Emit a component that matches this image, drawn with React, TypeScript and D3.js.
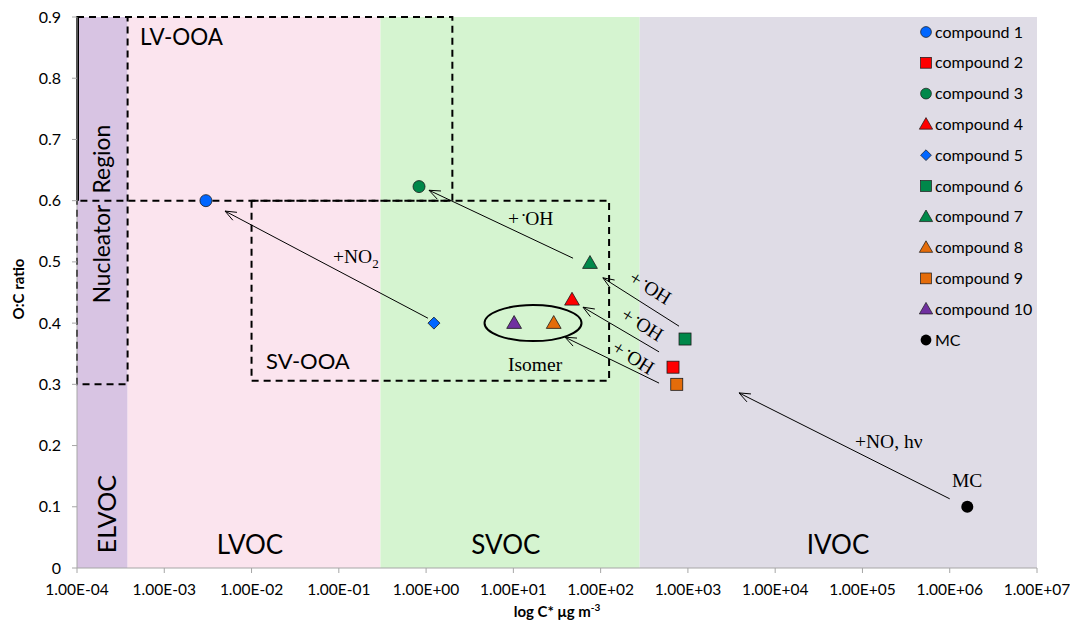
import React from "react";
import * as d3 from "d3";

// ---------- data ----------
const xTicks = [1e-4, 1e-3, 1e-2, 1e-1, 1e0, 1e1, 1e2, 1e3, 1e4, 1e5, 1e6, 1e7];
const yTicks = [0, 0.1, 0.2, 0.3, 0.4, 0.5, 0.6, 0.7, 0.8, 0.9];

const volatilityBands = [
  { name: "ELVOC", x0: 1e-4, x1: 3.8e-4, fill: "#d8c4e3" },
  { name: "LVOC", x0: 3.8e-4, x1: 0.3, fill: "#fbe4ee" },
  { name: "SVOC", x0: 0.3, x1: 280, fill: "#d5f4d0" },
  { name: "IVOC", x0: 280, x1: 1e7, fill: "#dfdce6" },
];

const bandLabels = [
  { text: "LVOC", x: 0.0096, y: 0.023 },
  { text: "SVOC", x: 8.2, y: 0.023 },
  { text: "IVOC", x: 52500, y: 0.023 },
];

// dashed region boxes
const boxes = [
  { name: "LV-OOA", x0: 1e-4, x1: 2, y0: 0.6, y1: 0.9 },
  { name: "Nucleator", x0: 1e-4, x1: 3.8e-4, y0: 0.3, y1: 0.9 },
  { name: "SV-OOA", x0: 0.01, x1: 125, y0: 0.306, y1: 0.6 },
];

const compounds = [
  { name: "compound 1", x: 0.003, y: 0.6, shape: "circle", color: "#0066ff" },
  { name: "compound 2", x: 675, y: 0.328, shape: "square", color: "#ff0000" },
  { name: "compound 3", x: 0.83, y: 0.623, shape: "circle", color: "#00884a" },
  { name: "compound 4", x: 47, y: 0.438, shape: "triangle", color: "#ff0000" },
  { name: "compound 5", x: 1.23, y: 0.4, shape: "diamond", color: "#0066ff" },
  { name: "compound 6", x: 927, y: 0.374, shape: "square", color: "#00884a" },
  { name: "compound 7", x: 75.5, y: 0.498, shape: "triangle", color: "#00884a" },
  { name: "compound 8", x: 29, y: 0.4, shape: "triangle", color: "#e46c0a" },
  { name: "compound 9", x: 745, y: 0.3, shape: "square", color: "#e46c0a" },
  { name: "compound 10", x: 10.2, y: 0.4, shape: "triangle", color: "#7030a0" },
  { name: "MC", x: 1.59e6, y: 0.1, shape: "dot", color: "#000000" },
];

// reaction arrows: from -> to (data coordinates)
const arrows = [
  { x0: 1.05, y0: 0.408, x1: 0.00497, y1: 0.583 },
  { x0: 48.3, y0: 0.506, x1: 1.08, y1: 0.617 },
  { x0: 791, y0: 0.395, x1: 106, y1: 0.474 },
  { x0: 467, y0: 0.353, x1: 62.8, y1: 0.426 },
  { x0: 467, y0: 0.302, x1: 39.1, y1: 0.377 },
  { x0: 1.0e6, y0: 0.113, x1: 3850, y1: 0.286 },
];

const ohLabelsRotated = [
  { x: 368, y: 0.457 },
  { x: 298, y: 0.397 },
  { x: 235, y: 0.343 },
];

const fmtTick = (v: number) => {
  const e = Math.round(Math.log10(v));
  const s = e < 0 ? "-" : "+";
  return "1.00E" + s + String(Math.abs(e)).padStart(2, "0");
};

// ---------- layout ----------
const W = 1070;
const H = 622;
const L = 77, R = 1037, T = 17, B = 568;

const x = d3.scaleLog().domain([1e-4, 1e7]).range([L, R]);
const y = d3.scaleLinear().domain([0, 0.9]).range([B, T]);

const sans = "Lato, 'Open Sans', sans-serif";
const serif = "'Liberation Serif', 'DejaVu Serif', serif";
const serifSize = 19.5;

function Marker({ shape, color, cx, cy }: { shape: string; color: string; cx: number; cy: number }) {
  const stroke = "#1a1a1a";
  if (shape === "circle")
    return <circle cx={cx} cy={cy} r={6} fill={color} stroke={stroke} strokeWidth={0.8} />;
  if (shape === "dot") return <circle cx={cx} cy={cy} r={6} fill={color} />;
  if (shape === "square")
    return <rect x={cx - 6} y={cy - 6} width={12} height={12} fill={color} stroke={stroke} strokeWidth={0.8} />;
  if (shape === "diamond") {
    const p = d3.path();
    p.moveTo(cx, cy - 6);
    p.lineTo(cx + 6, cy);
    p.lineTo(cx, cy + 6);
    p.lineTo(cx - 6, cy);
    p.closePath();
    return <path d={p.toString()} fill={color} stroke={stroke} strokeWidth={0.8} />;
  }
  const sym = d3.symbol(d3.symbolTriangle, 95)();
  return <path d={sym as string} transform={`translate(${cx},${cy + 1})`} fill={color} stroke={stroke} strokeWidth={0.8} />;
}

function Arrow({ a }: { a: typeof arrows[number] }) {
  const X0 = x(a.x0), Y0 = y(a.y0), X1 = x(a.x1), Y1 = y(a.y1);
  const ang = Math.atan2(Y0 - Y1, X0 - X1);
  const hl = 12, spread = 0.38;
  const p1 = [X1 + hl * Math.cos(ang + spread), Y1 + hl * Math.sin(ang + spread)];
  const p2 = [X1 + hl * Math.cos(ang - spread), Y1 + hl * Math.sin(ang - spread)];
  return (
    <g stroke="#000" strokeWidth={1} fill="none">
      <line x1={X0} y1={Y0} x2={X1} y2={Y1} />
      <polyline points={`${p1[0]},${p1[1]} ${X1},${Y1} ${p2[0]},${p2[1]}`} />
    </g>
  );
}

function OH() {
  return (
    <>
      <tspan>+</tspan>
      <tspan dx={3} dy={-7} fontSize={9}>•</tspan>
      <tspan dy={7}>OH</tspan>
    </>
  );
}

export default function App() {
  const legendX = 926;
  const legendY0 = 32;
  const legendStep = 30.8;
  return (
    <svg width={W} height={H} style={{ position: "absolute", left: 0, top: 0, background: "#fff" }}>
      {/* bands */}
      {volatilityBands.map((b) => (
        <rect key={b.name} x={x(b.x0)} y={T} width={x(b.x1) - x(b.x0)} height={B - T} fill={b.fill} />
      ))}

      {/* dashed boxes */}
      {boxes.map((b) => (
        <rect
          key={b.name}
          x={x(b.x0)}
          y={y(b.y1)}
          width={x(b.x1) - x(b.x0)}
          height={y(b.y0) - y(b.y1)}
          fill="none"
          stroke="#000"
          strokeWidth={2}
          strokeDasharray="7,5"
        />
      ))}
      <line x1={x(1e-4) + 1} x2={x(1e-4) + 1} y1={y(0.9)} y2={y(0.6)} stroke="#000" strokeWidth={2} />

      {/* axes */}
      <line x1={L} x2={L} y1={T} y2={B} stroke="#a6a6a6" strokeWidth={1} />
      <line x1={L} x2={R} y1={B} y2={B} stroke="#a6a6a6" strokeWidth={1} />
      {yTicks.map((t) => (
        <g key={t}>
          <line x1={L - 5} x2={L} y1={y(t)} y2={y(t)} stroke="#a6a6a6" />
          <text x={L - 16} y={y(t) + 5.5} textAnchor="end" fontFamily={sans} fontSize={16} fill="#000">
            {t === 0 ? "0" : t.toFixed(1)}
          </text>
        </g>
      ))}
      {xTicks.map((t) => (
        <g key={t}>
          <line x1={x(t)} x2={x(t)} y1={B} y2={B + 5} stroke="#a6a6a6" />
          <text x={x(t)} y={B + 27} textAnchor="middle" fontFamily={sans} fontSize={15.5} fill="#000">
            {fmtTick(t)}
          </text>
        </g>
      ))}
      <text x={557} y={617} textAnchor="middle" fontFamily={sans} fontSize={15} fontWeight="bold">
        log C* μg m<tspan dy={-6} fontSize={10}>-3</tspan>
      </text>
      <text
        transform={`translate(24,289) rotate(-90)`}
        textAnchor="middle"
        fontFamily={sans}
        fontSize={15}
        fontWeight="bold"
      >
        O:C ratio
      </text>

      {/* region labels */}
      {bandLabels.map((b) => (
        <text key={b.text} x={x(b.x)} y={y(b.y)} textAnchor="middle" fontFamily={sans} fontSize={26} fill="#000">
          {b.text}
        </text>
      ))}
      <text
        transform={`translate(${x(2.15e-4) + 10},${y(0.088)}) rotate(-90)`}
        textAnchor="middle"
        fontFamily={sans}
        fontSize={25}
      >
        ELVOC
      </text>
      <text
        transform={`translate(${x(1.93e-4) + 8},${y(0.578)}) rotate(-90)`}
        textAnchor="middle"
        fontFamily={sans}
        fontSize={22.8}
        style={{ whiteSpace: "pre" }}
      >
        {"Nucleator  Region"}
      </text>
      <text x={x(5.27e-4)} y={y(0.854)} fontFamily={sans} fontSize={22.4}>
        LV-OOA
      </text>
      <text x={x(0.01466)} y={y(0.325)} fontFamily={sans} fontSize={22}>
        SV-OOA
      </text>

      {/* arrows */}
      {arrows.map((a, i) => (
        <Arrow key={i} a={a} />
      ))}

      {/* isomer ellipse */}
      <ellipse cx={x(16.8)} cy={y(0.4)} rx={48.5} ry={18} fill="none" stroke="#000" strokeWidth={2} />

      {/* annotations */}
      <text x={x(0.0857)} y={y(0.498)} fontFamily={serif} fontSize={serifSize}>
        +NO<tspan dy={5} fontSize={13}>2</tspan>
      </text>
      <text x={x(8.68)} y={y(0.56)} fontFamily={serif} fontSize={serifSize}>
        <OH />
      </text>
      {ohLabelsRotated.map((o, i) => (
        <text
          key={i}
          transform={`translate(${x(o.x)},${y(o.y)}) rotate(32)`}
          textAnchor="middle"
          dy={6}
          fontFamily={serif}
          fontSize={serifSize}
        >
          <OH />
        </text>
      ))}
      <text x={x(82200)} y={y(0.196)} fontFamily={serif} fontSize={serifSize}>
        +NO, hν
      </text>
      <text x={x(1.06e6)} y={y(0.132)} fontFamily={serif} fontSize={serifSize}>
        MC
      </text>
      <text x={x(8.68)} y={y(0.322)} fontFamily={serif} fontSize={serifSize}>
        Isomer
      </text>

      {/* points */}
      {compounds.map((c) => (
        <Marker key={c.name} shape={c.shape} color={c.color} cx={x(c.x)} cy={y(c.y)} />
      ))}

      {/* legend */}
      {compounds.map((c, i) => (
        <g key={"lg" + c.name}>
          <g transform={`translate(${legendX},${legendY0 + i * legendStep}) scale(0.9)`}>
            <Marker shape={c.shape} color={c.color} cx={0} cy={0} />
          </g>
          <text x={legendX + 9} y={legendY0 + i * legendStep + 5.5} fontFamily={sans} fontSize={16}>
            {c.name}
          </text>
        </g>
      ))}
    </svg>
  );
}
